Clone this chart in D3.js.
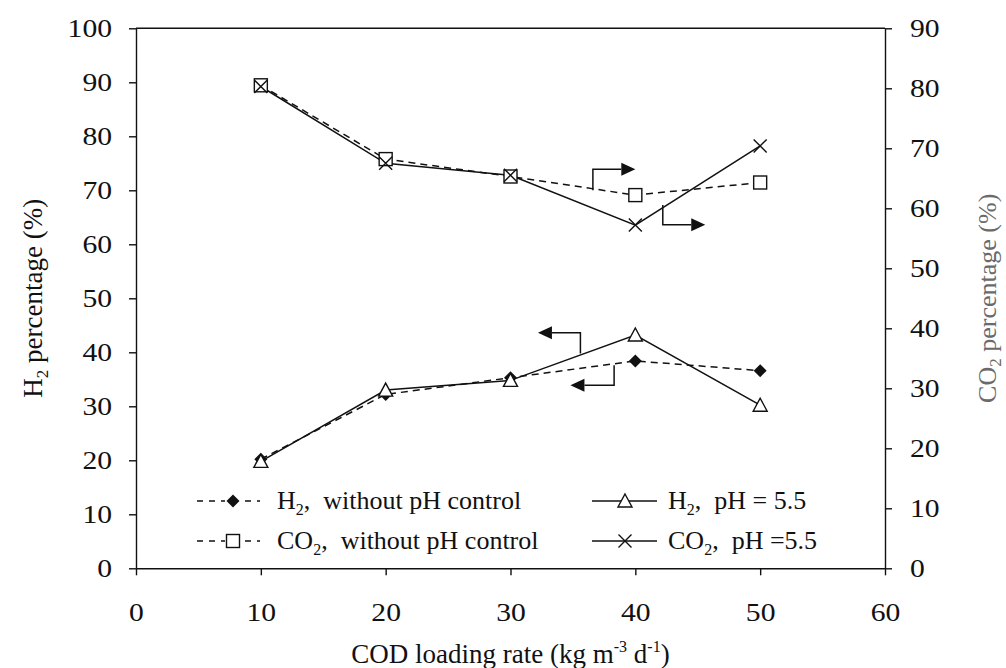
<!DOCTYPE html>
<html>
<head>
<meta charset="utf-8">
<script src="https://cdn.jsdelivr.net/npm/d3@7"></script>
<style>
  html, body { margin: 0; padding: 0; background: #fff; }
  svg { display: block; }
  text { font-family: "Liberation Serif", "Times New Roman", serif; fill: #111; }
</style>
</head>
<body>
<div id="chart"></div>
<script>
// COD loading rate (kg m-3 d-1)
const loadingRates = [10, 20, 30, 40, 50];

// H2 percentage (%), left axis
const h2NoControl = [20.2, 32.2, 35.3, 38.4, 36.6];
const h2Ph55 = [19.8, 33.0, 34.8, 43.2, 30.2];

// CO2 percentage (%), right axis
const co2NoControl = [80.5, 68.2, 65.3, 62.2, 64.3];
const co2Ph55 = [80.3, 67.5, 65.5, 57.2, 70.4];

const xTicks = [0, 10, 20, 30, 40, 50, 60];
const leftTicks = [0, 10, 20, 30, 40, 50, 60, 70, 80, 90, 100];
const rightTicks = [0, 10, 20, 30, 40, 50, 60, 70, 80, 90];

// arrows pointing each pair of curves to its axis (in x / left-axis units)
const arrowNotes = [
  { x0: 36.6, y0: 70.0, y1: 73.9, x1: 40.0 },
  { x0: 42.2, y0: 67.3, y1: 63.6, x1: 45.6 },
  { x0: 35.6, y0: 39.8, y1: 43.6, x1: 32.2 },
  { x0: 38.3, y0: 37.6, y1: 33.9, x1: 34.8 }
];

const width = 1006;
const height = 668;
const margin = { top: 28.3, right: 121, bottom: 99.7, left: 136 };

const svg = d3.select('#chart')
  .append('svg')
  .attr('width', width)
  .attr('height', height);

const x = d3.scaleLinear().domain([0, 60]).range([margin.left, width - margin.right]);
const yLeft = d3.scaleLinear().domain([0, 100]).range([height - margin.bottom, margin.top]);
const yRight = d3.scaleLinear().domain([0, 90]).range([height - margin.bottom, margin.top]);

const tickFont = 26;
const stretch = 1.14; // the scanned tick digits are a bit wide

// clip for right tick labels (the scan is cut off there)
svg.append('defs').append('clipPath')
  .attr('id', 'right-clip')
  .append('rect')
  .attr('x', -20).attr('y', -20)
  .attr('width', 940 - (width - margin.right) + 20).attr('height', height);

// Axes
function styleAxis(g) {
  g.selectAll('path, line').attr('stroke', '#111').attr('stroke-width', 1.4);
  g.selectAll('text')
    .style('font-size', tickFont + 'px')
    .style('font-family', '"Liberation Serif", "Times New Roman", serif')
    .attr('fill', '#111')
    .attr('x', function() { return +d3.select(this).attr('x') / stretch; })
    .attr('transform', `scale(${stretch},1)`);
}

svg.append('g')
  .attr('transform', `translate(0,${yLeft(0)})`)
  .call(d3.axisBottom(x).tickValues(xTicks).tickSize(7).tickSizeOuter(0).tickPadding(27))
  .call(styleAxis);

svg.append('g')
  .attr('transform', `translate(${x(0)},0)`)
  .call(d3.axisLeft(yLeft).tickValues(leftTicks).tickSize(7).tickSizeOuter(0).tickPadding(17))
  .call(styleAxis);

svg.append('g')
  .attr('transform', `translate(${x(60)},0)`)
  .attr('clip-path', 'url(#right-clip)')
  .call(d3.axisRight(yRight).tickValues(rightTicks).tickSize(7).tickSizeOuter(0).tickPadding(18))
  .call(styleAxis);

// top frame line
svg.append('line')
  .attr('x1', x(0)).attr('x2', x(60))
  .attr('y1', yLeft(100)).attr('y2', yLeft(100))
  .attr('stroke', '#111').attr('stroke-width', 1.4);

// Axis titles
svg.append('text')
  .attr('transform', `translate(${x(30)},${height - 5})`)
  .attr('text-anchor', 'middle')
  .style('font-size', '27px')
  .call(t => {
    t.append('tspan').text('COD loading rate (kg m');
    t.append('tspan').attr('dy', -11).style('font-size', '16px').text('-3');
    t.append('tspan').attr('dy', 11).text(' d');
    t.append('tspan').attr('dy', -11).style('font-size', '16px').text('-1');
    t.append('tspan').attr('dy', 11).text(')');
  });

svg.append('text')
  .attr('transform', `translate(42,${(yLeft(0) + yLeft(100)) / 2}) rotate(-90)`)
  .attr('text-anchor', 'middle')
  .style('font-size', '27px')
  .call(t => {
    t.append('tspan').text('H');
    t.append('tspan').attr('dy', 6).style('font-size', '17px').text('2');
    t.append('tspan').attr('dy', -6).text(' percentage (%)');
  });

svg.append('text')
  .attr('transform', `translate(996,${(yLeft(0) + yLeft(100)) / 2}) rotate(-90)`)
  .attr('text-anchor', 'middle')
  .style('font-size', '26px')
  .style('fill', '#6a6a6a')
  .call(t => {
    t.append('tspan').text('CO');
    t.append('tspan').attr('dy', 5).style('font-size', '17px').text('2');
    t.append('tspan').attr('dy', -5).text(' percentage (%)');
  });

// Marker shapes
const markers = {
  diamond: g => g.append('path').attr('d', 'M0,-6.5L6.5,0L0,6.5L-6.5,0Z').attr('fill', '#111'),
  square: g => g.append('rect').attr('x', -6.5).attr('y', -6.5).attr('width', 13).attr('height', 13)
    .attr('fill', '#fff').attr('stroke', '#111').attr('stroke-width', 1.4),
  triangle: g => g.append('path').attr('d', 'M0,-7L7,6L-7,6Z')
    .attr('fill', '#fff').attr('stroke', '#111').attr('stroke-width', 1.4),
  cross: g => g.append('path').attr('d', 'M-6.5,-6.5L6.5,6.5M-6.5,6.5L6.5,-6.5')
    .attr('fill', 'none').attr('stroke', '#111').attr('stroke-width', 1.4)
};

const series = [
  { name: 'co2NoControl', values: co2NoControl, y: yRight, dash: '7,5', marker: 'square' },
  { name: 'co2Ph55', values: co2Ph55, y: yRight, dash: null, marker: 'cross' },
  { name: 'h2NoControl', values: h2NoControl, y: yLeft, dash: '7,5', marker: 'diamond' },
  { name: 'h2Ph55', values: h2Ph55, y: yLeft, dash: null, marker: 'triangle' }
];

series.forEach(s => {
  const line = d3.line()
    .x((d, i) => x(loadingRates[i]))
    .y(d => s.y(d));

  svg.append('path')
    .datum(s.values)
    .attr('class', 'series-line ' + s.name)
    .attr('d', line)
    .attr('fill', 'none')
    .attr('stroke', '#111')
    .attr('stroke-width', 1.5)
    .attr('stroke-dasharray', s.dash);
});

series.forEach(s => {
  svg.append('g')
    .attr('class', 'markers ' + s.name)
    .selectAll('g')
    .data(s.values)
    .enter()
    .append('g')
    .attr('transform', (d, i) => `translate(${x(loadingRates[i])},${s.y(d)})`)
    .each(function() { markers[s.marker](d3.select(this)); });
});

// Arrows
arrowNotes.forEach(a => {
  const dir = a.x1 > a.x0 ? 1 : -1;
  const headLen = 14;
  const tipX = x(a.x1);
  const cornerY = yLeft(a.y1);
  svg.append('path')
    .attr('d', `M${x(a.x0)},${yLeft(a.y0)}V${cornerY}H${tipX - dir * headLen}`)
    .attr('fill', 'none')
    .attr('stroke', '#111')
    .attr('stroke-width', 1.5);
  svg.append('path')
    .attr('d', `M${tipX},${cornerY}L${tipX - dir * headLen},${cornerY - 6.5}L${tipX - dir * headLen},${cornerY + 6.5}Z`)
    .attr('fill', '#111');
});

// Legend
const legendItems = [
  { sub: 'H', rest: ',  without pH control', dash: '7,5', marker: 'diamond', col: 0, row: 0 },
  { sub: 'CO', rest: ',  without pH control', dash: '7,5', marker: 'square', col: 0, row: 1 },
  { sub: 'H', rest: ',  pH = 5.5', dash: null, marker: 'triangle', col: 1, row: 0 },
  { sub: 'CO', rest: ',  pH =5.5', dash: null, marker: 'cross', col: 1, row: 1 }
];
const legendCols = [{ x1: 197, x2: 260, mx: 233, tx: 277 }, { x1: 592, x2: 657, mx: 625, tx: 668 }];
const legendRows = [501, 541];

const legend = svg.append('g').attr('class', 'legend');
legendItems.forEach(item => {
  const c = legendCols[item.col];
  const ry = legendRows[item.row];
  const g = legend.append('g');
  g.append('line')
    .attr('x1', c.x1).attr('x2', c.x2)
    .attr('y1', ry).attr('y2', ry)
    .attr('stroke', '#111').attr('stroke-width', 1.5)
    .attr('stroke-dasharray', item.dash ? '6,6' : null);
  const m = g.append('g').attr('transform', `translate(${c.mx},${ry})`);
  if (item.dash) {
    m.append('rect').attr('x', -8).attr('y', -8).attr('width', 16).attr('height', 16).attr('fill', '#fff');
  }
  markers[item.marker](m);
  const t = g.append('text')
    .attr('x', c.tx).attr('y', ry + 8)
    .style('font-size', '26px')
    .attr('xml:space', 'preserve');
  t.append('tspan').text(item.sub);
  t.append('tspan').attr('dy', 6).style('font-size', '16px').text('2');
  t.append('tspan').attr('dy', -6).text(item.rest);
});
</script>
</body>
</html>
